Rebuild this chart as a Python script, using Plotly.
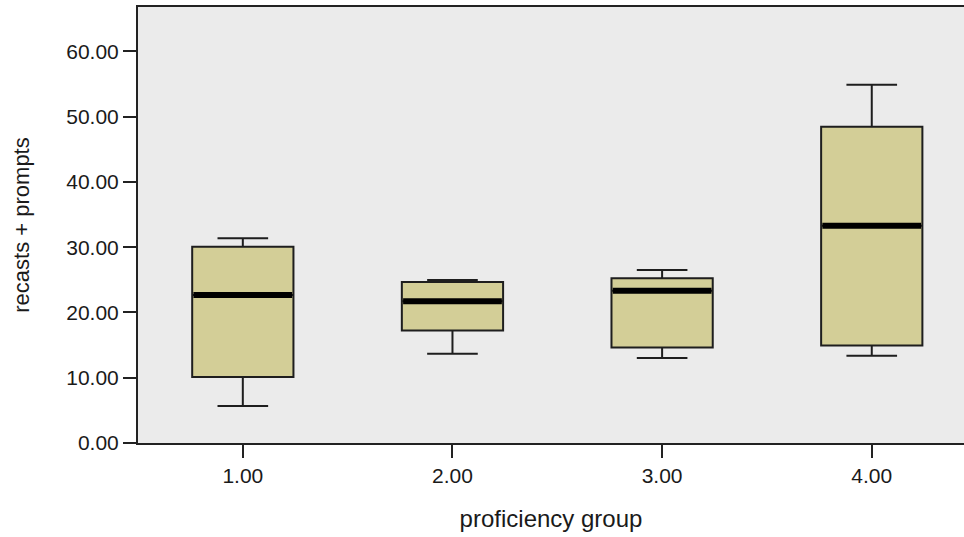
import plotly.graph_objects as go

# Five-number summaries per proficiency group
groups = [1, 2, 3, 4]
group_labels = ["1.00", "2.00", "3.00", "4.00"]
lower_whisker = [5.68, 13.66, 13.04, 13.35]
q1_values = [10.13, 17.25, 14.64, 14.94]
median_values = [22.66, 21.70, 23.32, 33.30]
q3_values = [30.08, 24.66, 25.23, 48.44]
upper_whisker = [31.36, 24.97, 26.50, 54.89]

y_ticks = [0, 10, 20, 30, 40, 50, 60]
y_tick_labels = ["0.00", "10.00", "20.00", "30.00", "40.00", "50.00", "60.00"]

BOX_WIDTH = 0.483
FILL = "rgb(211,206,151)"
EDGE = "#1e1e1e"
FONT = "Liberation Sans, Arial, sans-serif"

fig = go.Figure()

for g, lo, a, m, b, hi in zip(groups, lower_whisker, q1_values, median_values,
                              q3_values, upper_whisker):
    fig.add_trace(go.Box(
        x=[g], q1=[a], median=[m], q3=[b],
        lowerfence=[lo], upperfence=[hi],
        width=BOX_WIDTH, whiskerwidth=0.5,
        fillcolor=FILL, line=dict(color=EDGE, width=2),
        boxpoints=False, showlegend=False, hoverinfo="skip",
    ))

# Heavy median bars drawn on top of each box
mx, my = [], []
for g, m in zip(groups, median_values):
    mx += [g - BOX_WIDTH / 2 + 0.006, g + BOX_WIDTH / 2 - 0.006, None]
    my += [m, m, None]
fig.add_trace(go.Scatter(
    x=mx, y=my, mode="lines", line=dict(color="black", width=6),
    showlegend=False, hoverinfo="skip",
))

fig.update_layout(
    width=964, height=537,
    margin=dict(l=138, r=0, t=7, b=94),
    paper_bgcolor="white",
    plot_bgcolor="rgb(235,235,235)",
    font=dict(family=FONT, color="#1a1a1a"),
    xaxis=dict(
        range=[0.5, 4.44],
        tickmode="array", tickvals=groups, ticktext=group_labels,
        showgrid=False, zeroline=False,
        showline=True, linecolor="#222", linewidth=2, mirror=True,
        ticks="outside", ticklen=13, tickwidth=2, tickcolor="#222",
        tickfont=dict(size=21),
        title=dict(text="proficiency group", font=dict(size=24), standoff=24),
    ),
    yaxis=dict(
        range=[0, 66.8],
        tickmode="array", tickvals=y_ticks, ticktext=y_tick_labels,
        showgrid=False, zeroline=False,
        showline=True, linecolor="#222", linewidth=2,
        ticks="outside", ticklen=13, tickwidth=2, tickcolor="#222",
        tickfont=dict(size=21),
        title=dict(text="recasts + prompts", font=dict(size=22), standoff=31),
    ),
)

fig.write_html("out.html")
